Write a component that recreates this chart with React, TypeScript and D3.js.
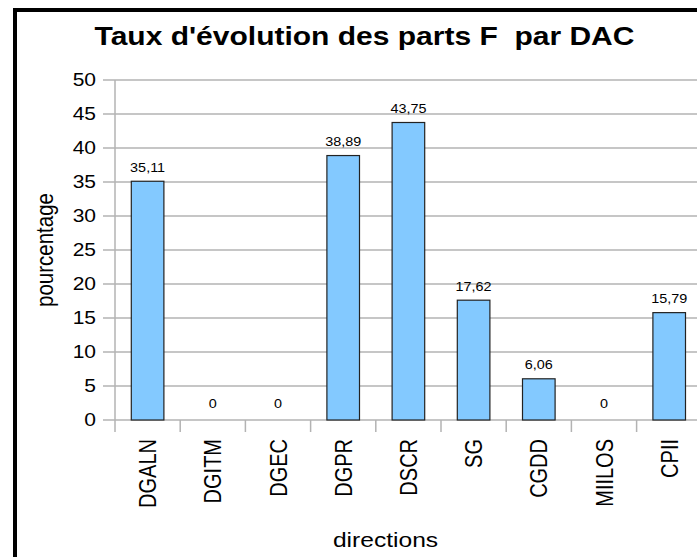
import React from "react";
import * as d3 from "d3";

const categories = ["DGALN", "DGITM", "DGEC", "DGPR", "DSCR", "SG", "CGDD", "MIILOS", "CPII"];
const values = [35.11, 0, 0, 38.89, 43.75, 17.62, 6.06, 0, 15.79];
const yTicks = [0, 5, 10, 15, 20, 25, 30, 35, 40, 45, 50];
const title = "Taux d'évolution des parts F  par DAC";
const xTitle = "directions";
const yTitle = "pourcentage";

const W = 697;
const H = 557;
const SX = 1.2; // horizontal stretch of text
const FONT = "'Liberation Sans', Arial, sans-serif";

const fmt = (v: number) => (v === 0 ? "0" : v.toFixed(2).replace(".", ","));

export default function App() {
  const left = 115;
  const step = 65.2;
  const x = d3
    .scaleBand<string>()
    .domain(categories)
    .range([left, left + step * categories.length])
    .paddingInner(0.5)
    .paddingOuter(0.25);
  const y = d3.scaleLinear().domain([0, 50]).range([420, 80]);
  const gridColor = "#b3b3b3";
  const axisBottom = y(0);

  return (
    <svg
      width={W}
      height={H}
      style={{ position: "absolute", left: 0, top: 0, display: "block", background: "#fff" }}
      fontFamily={FONT}
    >
      <rect x={15} y={10} width={800} height={700} fill="#fff" stroke="#000" strokeWidth={4} />

      {/* title */}
      <text
        transform={`translate(364.5,45) scale(${SX},1)`}
        textAnchor="middle"
        fontSize={25}
        fontWeight="bold"
        fill="#000"
        style={{ whiteSpace: "pre" }}
      >
        {title}
      </text>

      {/* gridlines and y ticks */}
      {yTicks.map((t) => (
        <g key={t}>
          <line x1={103} x2={W + 20} y1={y(t)} y2={y(t)} stroke={gridColor} strokeWidth={1.5} />
          <text
            transform={`translate(96,${y(t) + 6.2}) scale(${SX},1)`}
            textAnchor="end"
            fontSize={17.5}
            fill="#000"
          >
            {t}
          </text>
        </g>
      ))}

      {/* y axis line */}
      <line x1={left} x2={left} y1={y(50)} y2={axisBottom + 12} stroke={gridColor} strokeWidth={1.5} />

      {/* x category boundary ticks */}
      {categories.map((c, i) => {
        const bx = left + (i + 1) * x.step();
        return <line key={c} x1={bx} x2={bx} y1={axisBottom} y2={axisBottom + 12} stroke={gridColor} strokeWidth={1.5} />;
      })}

      {/* bars */}
      {categories.map((c, i) => {
        const v = values[i];
        const bx = x(c)!;
        const by = y(v);
        return (
          <g key={c}>
            {v > 0 && (
              <rect
                x={bx}
                y={by}
                width={x.bandwidth()}
                height={axisBottom - by}
                fill="#83c9ff"
                stroke="#222"
                strokeWidth={1.2}
              />
            )}
            <text
              transform={`translate(${bx + x.bandwidth() / 2},${by - (v > 0 ? 9.5 : 12)}) scale(${SX},1)`}
              textAnchor="middle"
              fontSize={12}
              fill="#000"
            >
              {fmt(v)}
            </text>
          </g>
        );
      })}

      {/* category labels */}
      {categories.map((c) => {
        const cx = x(c)! + x.bandwidth() / 2;
        return (
          <text
            key={c}
            transform={`translate(${cx + 8.6},439) scale(${SX},1) rotate(-90)`}
            textAnchor="end"
            fontSize={20}
            fill="#000"
          >
            {c}
          </text>
        );
      })}

      {/* axis titles */}
      <text
        transform={`translate(53,250) scale(${SX},1) rotate(-90)`}
        textAnchor="middle"
        fontSize={20.5}
        fill="#000"
      >
        {yTitle}
      </text>
      <text
        transform={`translate(385.5,546.7) scale(${SX},1)`}
        textAnchor="middle"
        fontSize={20.5}
        fill="#000"
      >
        {xTitle}
      </text>
    </svg>
  );
}
